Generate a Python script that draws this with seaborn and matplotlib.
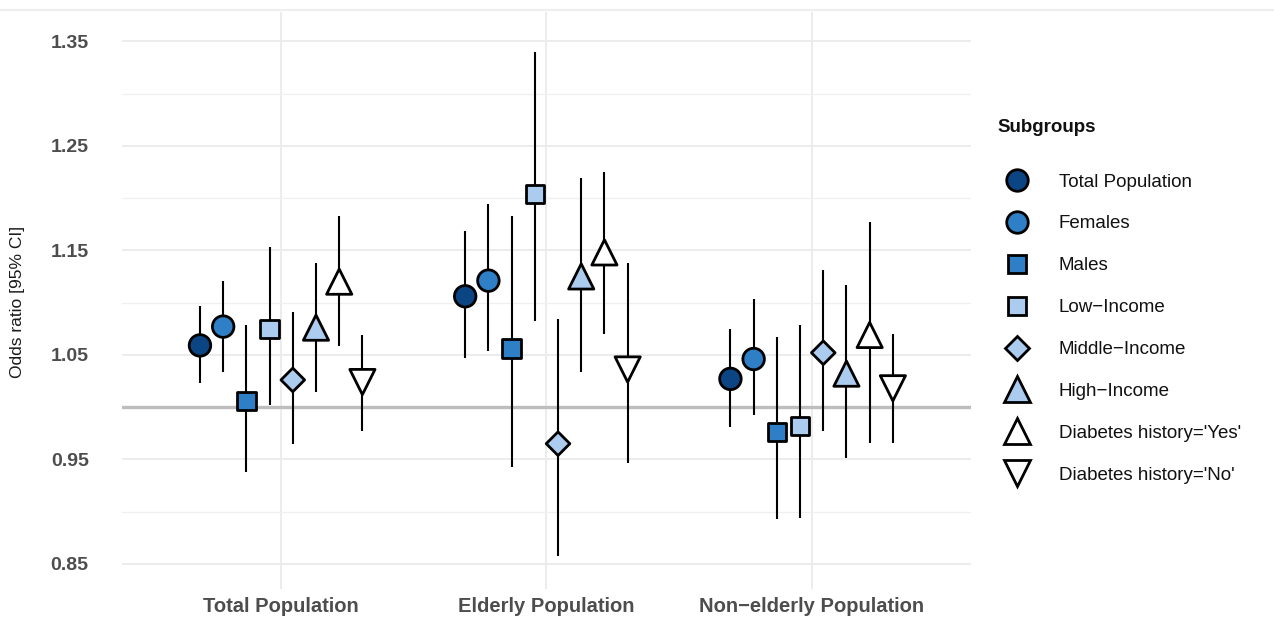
import numpy as np
import pandas as pd
import matplotlib
matplotlib.use('Agg')
import matplotlib.pyplot as plt
from matplotlib.lines import Line2D
import seaborn as sns

# populations on the x axis
populations = ['Total Population', 'Elderly Population', 'Non\u2212elderly Population']
subgroups = ['Total Population', 'Females', 'Males', 'Low\u2212Income',
             'Middle\u2212Income', 'High\u2212Income',
             "Diabetes history='Yes'", "Diabetes history='No'"]

# odds ratios and 95% CI, one list per population (same order as subgroups)
or_total = [1.059, 1.077, 1.006, 1.075, 1.026, 1.076, 1.120, 1.024]
lo_total = [1.023, 1.034, 0.938, 1.002, 0.965, 1.014, 1.058, 0.977]
hi_total = [1.097, 1.121, 1.079, 1.153, 1.091, 1.138, 1.183, 1.069]

or_elderly = [1.106, 1.121, 1.056, 1.204, 0.965, 1.125, 1.148, 1.036]
lo_elderly = [1.047, 1.054, 0.943, 1.082, 0.858, 1.034, 1.070, 0.947]
hi_elderly = [1.168, 1.194, 1.183, 1.340, 1.084, 1.219, 1.225, 1.138]

or_nonelderly = [1.027, 1.046, 0.976, 0.982, 1.052, 1.032, 1.069, 1.018]
lo_nonelderly = [0.981, 0.992, 0.893, 0.894, 0.977, 0.951, 0.966, 0.966]
hi_nonelderly = [1.075, 1.103, 1.067, 1.079, 1.131, 1.117, 1.177, 1.070]

y_ticks = [0.85, 0.95, 1.05, 1.15, 1.25, 1.35]
y_minor = [0.90, 1.00, 1.10, 1.20, 1.30]

fills = ['#0b4583', '#2f7fc6', '#2f7fc6', '#abcbef', '#abcbef', '#abcbef', '#ffffff', '#ffffff']
shapes = ['o', 'o', 's', 's', 'D', '^', '^', 'v']
areas = [240, 240, 175, 175, 145, 330, 330, 330]

rows = []
for p, (est, lo, hi) in enumerate([(or_total, lo_total, hi_total),
                                   (or_elderly, lo_elderly, hi_elderly),
                                   (or_nonelderly, lo_nonelderly, hi_nonelderly)]):
    for i, sg in enumerate(subgroups):
        rows.append({'population': populations[p], 'subgroup': sg,
                     'xpos': p + (i - 3.5) * 0.0875,
                     'odds': est[i], 'low': lo[i], 'high': hi[i]})
df = pd.DataFrame(rows)

sns.set_theme(style='white')
plt.rcParams['font.family'] = ['Liberation Sans', 'DejaVu Sans']

fig = plt.figure(figsize=(12.74, 6.17), dpi=100)
ax = fig.add_axes([0.0958, 0.0454, 0.762 - 0.0958, 0.9806 - 0.0454])

ax.set_xlim(-0.6, 2.6)
ax.set_ylim(0.826, 1.378)
ax.set_yticks(y_ticks)
ax.set_yticks(y_minor, minor=True)
ax.set_xticks(range(len(populations)))
ax.grid(True, which='major', axis='both', color='#ebebeb', lw=1.3, zorder=0)
ax.grid(True, which='minor', axis='y', color='#f0f0f0', lw=1.0, zorder=0)
ax.set_axisbelow(True)

ax.axhline(1.0, color='#bdbdbd', lw=2.4, zorder=1)
ax.vlines(df['xpos'], df['low'], df['high'], color='black', lw=1.5, zorder=2)

sns.scatterplot(data=df, x='xpos', y='odds', hue='subgroup', style='subgroup',
                size='subgroup', hue_order=subgroups, style_order=subgroups,
                size_order=subgroups,
                palette=dict(zip(subgroups, fills)),
                markers=dict(zip(subgroups, shapes)),
                sizes=dict(zip(subgroups, areas)),
                edgecolor='black', linewidth=2.0, alpha=1,
                legend=False, zorder=3, ax=ax)

ax.set_xticklabels(populations, fontsize=14.5, fontweight='bold', color='#4d4d4d')
ax.set_yticklabels(['%.2f' % v for v in y_ticks], fontsize=14, fontweight='bold', color='#4d4d4d')
ax.tick_params(axis='x', length=0, pad=6)
ax.tick_params(axis='y', which='both', length=0, pad=24)
ax.set_xlabel('')
ax.set_ylabel('')
for s in ax.spines.values():
    s.set_visible(False)

fig.text(18 / 1274, 0.51, 'Odds ratio [95% CI]', rotation=90, ha='center', va='center',
         fontsize=12.5, color='#1a1a1a')

# faint border line at the very top
fig.add_artist(Line2D([0, 1], [1 - 10 / 617, 1 - 10 / 617], color='#eeeeee', lw=1.5))

handles = [Line2D([], [], marker=m, ls='', markersize=np.sqrt(a), markerfacecolor=c,
                  markeredgecolor='black', markeredgewidth=2.0)
           for m, c, a in zip(shapes, fills, areas)]
leg = ax.legend(handles, subgroups, title='Subgroups', loc='upper left',
                bbox_to_anchor=(997 / 1274, 1 - 119 / 617), bbox_transform=fig.transFigure,
                frameon=False, fontsize=13.5, alignment='left',
                handlelength=2.13, handletextpad=1.17, labelspacing=1.32,
                borderpad=0, borderaxespad=0)
leg.get_title().set_fontweight('bold')
leg.get_title().set_fontsize(13.5)
leg.get_title().set_color('#111111')
for t in leg.get_texts():
    t.set_color('#111111')
leg._legend_box.sep = 27

fig.savefig('out.png', dpi=100)
